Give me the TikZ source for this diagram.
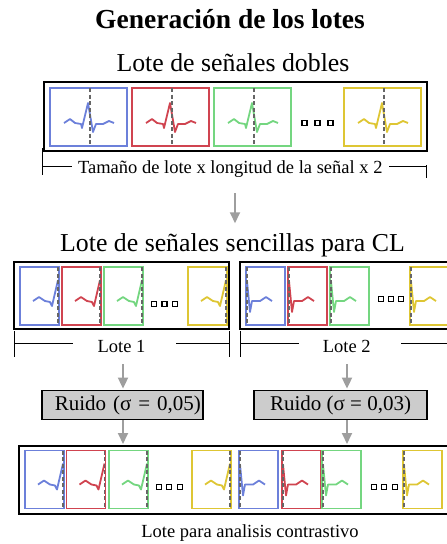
\documentclass[tikz,border=0pt]{standalone}
\usepackage{fontspec}
\setmainfont{Liberation Serif}
\usetikzlibrary{arrows.meta,positioning}

\definecolor{ecgblue}{RGB}{108,128,218}
\definecolor{ecgred}{RGB}{208,68,80}
\definecolor{ecggreen}{RGB}{116,214,128}
\definecolor{ecgyellow}{RGB}{222,198,52}

\tikzset{
  batch/.style={draw=black, line width=2pt, inner sep=0pt},
  cell/.style={line width=1.9pt},
  ecg/.style={line width=1.8pt, line join=round},
  midline/.style={draw=black!60, line width=1.6pt, dash pattern=on 4pt off 2.5pt},
  flow/.style={draw=black!38, line width=1.8pt, -{Triangle[length=11pt,width=10pt]}},
  noise/.style={draw=black, fill=gray!40, line width=1.8pt, minimum height=29pt, inner sep=0pt,
    font=\fontsize{21}{23}\selectfont},
  dotbox/.style={draw=black, fill=white, line width=1.4pt, minimum size=5pt, inner sep=0pt},
  ttl/.style={font=\fontsize{27.5}{30}\selectfont\bfseries},
  sub/.style={font=\fontsize{25.8}{28}\selectfont},
  lbl/.style={font=\fontsize{18.5}{20}\selectfont},
  % full beat, cut in the middle
  whole/.pic={
    \draw[cell] (-40,-29) rectangle (37,29);
    \draw[ecg] (-26,6) -- (-20,2) -- (-15,6) -- (-9,7) -- (-8,11) -- (-2,-14) -- (3,15)
      -- (6,7) -- (13,7) -- (19,4) -- (24,6);
    \draw[midline] (0,-29) -- (0,29);
  },
  % first half of a beat
  front/.pic={
    \draw[cell] (-38,-29) rectangle (1,29);
    \draw[ecg] (-25,5) -- (-19,1) -- (-13,5) -- (-8,6) -- (-6,10) -- (0,-16);
    \draw[midline] (0,-29) -- (0,29);
  },
  % second half of a beat
  back/.pic={
    \draw[cell] (-1,-29) rectangle (38,29);
    \draw[ecg] (0,-15) -- (3,16) -- (5,5) -- (13,5) -- (19,1) -- (25,5);
    \draw[midline] (0,-29) -- (0,29);
  }
}

\begin{document}
\begin{tikzpicture}[x=1pt, y=-1pt]
  \useasboundingbox (0,0) rectangle (447,544);
  \clip (0,0) rectangle (447,544);

  % Titles
  \node[ttl, anchor=base] (title) at (230,28) {Generación de los lotes};
  \node[sub, anchor=base] (dob) at (233,71) {Lote de señales dobles};

  % Batch of double signals
  \node[batch, minimum width=383pt, minimum height=69pt] (top) at (235.5,116.5) {};
  \pic[ecgblue] at (90,117) {whole};
  \pic[ecgred] at (172,117) {whole};
  \pic[ecggreen] at (254,117) {whole};
  \pic[ecgyellow] at (384,117) {whole};
  \foreach \x [count=\i] in {304.5,317.5,330.5}
    \node[dotbox] (dt\i) at (\x,123) {};

  \node[lbl, anchor=base] (size) at (230.3,173.3) {Tamaño de lote x longitud de la señal x 2};
  \draw[line width=1pt] (42,148) -- (42,175) (42,166) -- (72,166);
  \draw[line width=1pt] (426,165) -- (426,178) (426,166) -- (389,166);

  % Split
  \coordinate (s0) at (235,193);
  \node[sub, anchor=base] (sen) at (232.5,251.7) {Lote de señales sencillas para CL};
  \draw[flow, shorten >=7pt] (s0) -- (s0 |- sen.north);

  \node[batch, minimum width=215pt, minimum height=67pt] (b1) at (121.5,295.5) {};
  \node[batch, minimum width=215pt, minimum height=67pt] (b2) at (347.5,295.5) {};
  \pic[ecgblue] at (58,296) {front};
  \pic[ecgred] at (100,296) {front};
  \pic[ecggreen] at (142,296) {front};
  \pic[ecgyellow] at (226,296) {front};
  \pic[ecgblue] at (247,296) {back};
  \pic[ecgred] at (289,296) {back};
  \pic[ecggreen] at (331,296) {back};
  \pic[ecgyellow] at (411,296) {back};
  \foreach \x [count=\i] in {154,164.5,175}
    \node[dotbox] (da\i) at (\x,304) {};
  \foreach \x [count=\i] in {381,391,401}
    \node[dotbox] (db\i) at (\x,299) {};

  \node[lbl, anchor=base] (l1) at (121.5,352.7) {Lote 1};
  \node[lbl, anchor=base] (l2) at (346.7,352.7) {Lote 2};
  \draw[line width=1pt] (14,331) -- (14,357) (14,343) -- (73,343)
    (176,343) -- (229,343) (229,331) -- (229,357);
  \draw[line width=1pt] (240,331) -- (240,357) (240,343) -- (299,343)
    (401,343) -- (460,343);

  % Noise per batch
  \node[noise, minimum width=161pt, text width=157pt, align=right] (r1) at (122.5,405) {Ruido (σ = 0,05)};
  \node[noise, minimum width=173pt, align=center] (r2) at (340.5,405) {Ruido (σ = 0,03)};
  \coordinate (n1) at (123,364);
  \coordinate (n2) at (347,364);
  \draw[flow, shorten >=1pt] (n1) -- (n1 |- r1.north);
  \draw[flow, shorten >=1pt] (n2) -- (n2 |- r2.north);

  % Contrastive batch
  \node[batch, minimum width=445pt, minimum height=68pt] (cb) at (241.5,480) {};
  \draw[flow, shorten >=1pt] (r1.south -| n1) -- (n1 |- cb.north);
  \draw[flow, shorten >=1pt] (r2.south -| n2) -- (n2 |- cb.north);
  \pic[ecgblue] at (63,479.5) {front};
  \pic[ecgred] at (104.5,479.5) {front};
  \pic[ecggreen] at (147,479.5) {front};
  \pic[ecgyellow] at (230,479.5) {front};
  \pic[ecgblue] at (240,479.5) {back};
  \pic[ecgred] at (283,479.5) {back};
  \pic[ecggreen] at (323,479.5) {back};
  \pic[ecgyellow] at (404,479.5) {back};
  \foreach \x [count=\i] in {159,169,180}
    \node[dotbox] (dc\i) at (\x,487) {};
  \foreach \x [count=\i] in {374,384,395}
    \node[dotbox] (dd\i) at (\x,487) {};

  \node[lbl, anchor=base] (cl) at (250,537.3) {Lote para analisis contrastivo};
\end{tikzpicture}
\end{document}
